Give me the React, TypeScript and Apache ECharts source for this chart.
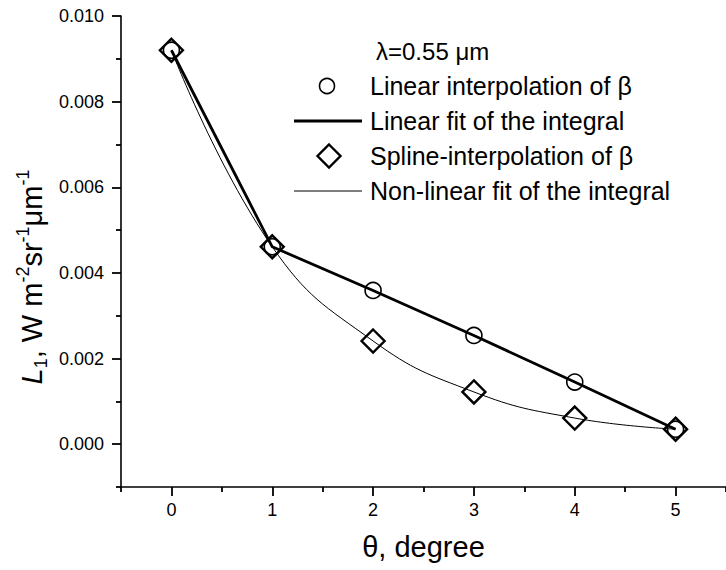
import React, { useEffect, useRef } from "react";
import * as echarts from "echarts";

// Scattering angle (degree)
const thetaValues = [0, 1, 2, 3, 4, 5];
// Linear interpolation of beta (open circles)
const linearInterp = [0.0092, 0.00461, 0.00359, 0.00254, 0.00145, 0.00035];
// Linear fit of the integral (thick line)
const linearFit = [0.0092, 0.00461, 0.00359, 0.00254, 0.00145, 0.00035];
// Spline-interpolation of beta (open diamonds)
const splineInterp = [0.0092, 0.00461, 0.00241, 0.00122, 0.00061, 0.00035];
// Non-linear fit of the integral (thin smooth curve)
const nonLinearFit = [0.0092, 0.00461, 0.00241, 0.00122, 0.00061, 0.00035];

const xMajor = [0, 1, 2, 3, 4, 5];
const xMinor = [-0.5, 0.5, 1.5, 2.5, 3.5, 4.5, 5.5];
const yMajor = [0, 0.002, 0.004, 0.006, 0.008, 0.01];
const yMinor = [-0.001, 0.001, 0.003, 0.005, 0.007, 0.009];

const legendLabels = [
  "Linear interpolation of \u03b2",
  "Linear fit of the integral",
  "Spline-interpolation of \u03b2",
  "Non-linear fit of the integral",
];

const FONT = "'Liberation Sans', Arial, Helvetica, sans-serif";

export default function App() {
  const ref = useRef<HTMLDivElement>(null);
  useEffect(() => {
    document.body.style.margin = "0";
    if (!ref.current) return;
    const chart = echarts.init(ref.current, null, { renderer: "svg" });
    const pair = (arr: number[]) => thetaValues.map((x, i) => [x, arr[i]]);
    const axisColor = "#000";
    const legendX = 294;
    const textX = 370;
    const rows = [86, 121, 156, 191];
    chart.setOption({
      animation: false,
      backgroundColor: "#fff",
      textStyle: { fontFamily: FONT, color: "#000" },
      grid: { left: 121, top: 16, right: -7, bottom: 83, containLabel: false },
      xAxis: [
        {
          type: "value",
          min: -0.5,
          max: 5.5,
          position: "bottom",
          axisLine: { show: true, onZero: false, lineStyle: { color: axisColor, width: 1.6 } },
          axisTick: { show: true, customValues: xMajor, length: 9, lineStyle: { color: axisColor, width: 1.8 } },
          axisLabel: { customValues: xMajor, fontSize: 18, color: "#000", margin: 14, fontFamily: FONT },
          splitLine: { show: false },
          name: "\u03b8, degree",
          nameLocation: "middle",
          nameGap: 45,
          nameTextStyle: { fontSize: 29, color: "#000", fontFamily: FONT },
        },
        {
          type: "value",
          min: -0.5,
          max: 5.5,
          position: "bottom",
          axisLine: { show: false, onZero: false },
          axisTick: { show: true, customValues: xMinor, length: 5, lineStyle: { color: axisColor, width: 1.8 } },
          axisLabel: { show: false },
          splitLine: { show: false },
        },
      ],
      yAxis: [
        {
          type: "value",
          min: -0.001,
          max: 0.01,
          position: "left",
          axisLine: { show: true, onZero: false, lineStyle: { color: axisColor, width: 1.6 } },
          axisTick: { show: true, customValues: yMajor, length: 9, lineStyle: { color: axisColor, width: 1.8 } },
          axisLabel: {
            customValues: yMajor,
            fontSize: 18,
            color: "#000",
            margin: 17,
            fontFamily: FONT,
            formatter: (v: number) => v.toFixed(3),
          },
          splitLine: { show: false },
        },
        {
          type: "value",
          min: -0.001,
          max: 0.01,
          position: "left",
          axisLine: { show: false, onZero: false },
          axisTick: { show: true, customValues: yMinor, length: 5, lineStyle: { color: axisColor, width: 1.8 } },
          axisLabel: { show: false },
          splitLine: { show: false },
        },
      ],
      series: [
        {
          name: legendLabels[3],
          type: "line",
          data: pair(nonLinearFit),
          smooth: 0.45,
          symbol: "none",
          lineStyle: { color: "#000", width: 1 },
          z: 2,
        },
        {
          name: legendLabels[1],
          type: "line",
          data: pair(linearFit),
          symbol: "none",
          lineStyle: { color: "#000", width: 2.8 },
          z: 3,
        },
        {
          name: legendLabels[0],
          type: "scatter",
          data: pair(linearInterp),
          symbol: "circle",
          symbolSize: 16,
          itemStyle: { color: "transparent", borderColor: "#000", borderWidth: 1.6, opacity: 1 },
          z: 4,
        },
        {
          name: legendLabels[2],
          type: "scatter",
          data: pair(splineInterp),
          symbol: "diamond",
          symbolSize: 23,
          itemStyle: { color: "transparent", borderColor: "#000", borderWidth: 2.4, opacity: 1 },
          z: 5,
        },
      ],
      graphic: [
        {
          type: "text",
          x: 32,
          y: 277,
          rotation: Math.PI / 2,
          style: {
            text: "{it|L}{sub|1}, W m{sup|-2}sr{sup|-1}\u03bcm{sup|-1}",
            fontSize: 29,
            fontFamily: FONT,
            fill: "#000",
            align: "center",
            verticalAlign: "middle",
            lineHeight: 36,
            rich: {
              it: { fontStyle: "italic", fontSize: 29, fontFamily: FONT, lineHeight: 36 },
              sub: { fontSize: 18, fontFamily: FONT, verticalAlign: "bottom", lineHeight: 18 },
              sup: { fontSize: 18, fontFamily: FONT, verticalAlign: "top", lineHeight: 18 },
            },
          },
        },
        {
          type: "text",
          x: 376,
          y: 51,
          style: { text: "\u03bb=0.55 \u03bcm", fontSize: 24, fontFamily: FONT, fill: "#000", verticalAlign: "middle" },
        },
        {
          type: "circle",
          shape: { cx: 327, cy: rows[0], r: 7.5 },
          style: { fill: "none", stroke: "#000", lineWidth: 1.6 },
        },
        {
          type: "line",
          shape: { x1: legendX, y1: rows[1], x2: 362, y2: rows[1] },
          style: { stroke: "#000", lineWidth: 2.8 },
        },
        {
          type: "polygon",
          shape: {
            points: [
              [329, rows[2] - 11.5],
              [340.5, rows[2]],
              [329, rows[2] + 11.5],
              [317.5, rows[2]],
            ],
          },
          style: { fill: "none", stroke: "#000", lineWidth: 2.4 },
        },
        {
          type: "line",
          shape: { x1: legendX, y1: rows[3], x2: 362, y2: rows[3] },
          style: { stroke: "#000", lineWidth: 1 },
        },
        ...legendLabels.map((t, i) => ({
          type: "text",
          x: textX,
          y: rows[i],
          style: { text: t, fontSize: 25, fontFamily: FONT, fill: "#000", verticalAlign: "middle" },
        })),
      ],
    });
    return () => chart.dispose();
  }, []);
  return <div ref={ref} style={{ width: 726, height: 570 }} />;
}
